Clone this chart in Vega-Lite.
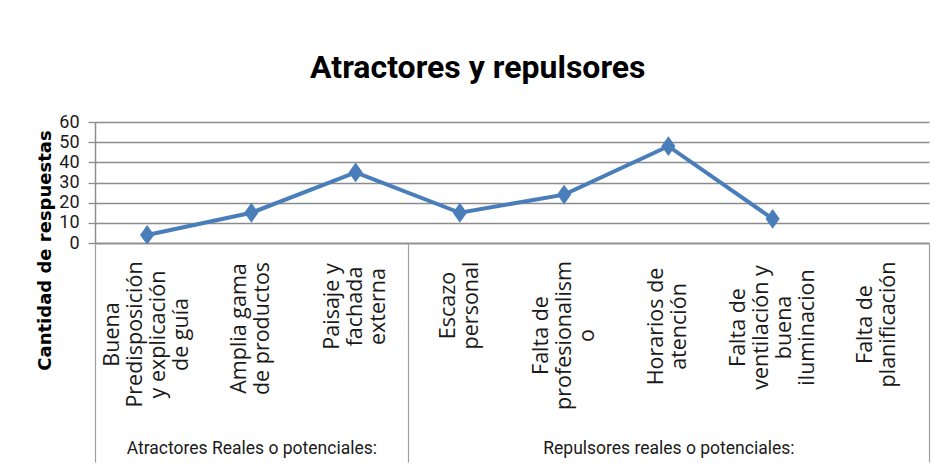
{
  "$schema": "https://vega.github.io/schema/vega-lite/v6.json",
  "autosize": {"type": "none"},
  "padding": {"left": 95, "top": 122, "right": 5, "bottom": 223},
  "width": 834,
  "height": 121,
  "background": "white",
  "title": {
    "text": "Atractores y repulsores",
    "font": "Roboto",
    "fontWeight": "bold",
    "fontSize": 32,
    "color": "#000000",
    "anchor": "middle",
    "frame": "bounds",
    "baseline": "alphabetic",
    "offset": 3,
    "dx": -5
  },
  "data": {
    "values": [
      {"categoria": "Buena\nPredisposición\ny explicación\nde guía", "grupo": "Atractores Reales o potenciales:", "respuestas": 4},
      {"categoria": "Amplia gama\nde productos", "grupo": "Atractores Reales o potenciales:", "respuestas": 15},
      {"categoria": "Paisaje y\nfachada\nexterna", "grupo": "Atractores Reales o potenciales:", "respuestas": 35},
      {"categoria": "Escazo\npersonal", "grupo": "Repulsores reales o potenciales:", "respuestas": 15},
      {"categoria": "Falta de\nprofesionalism\no", "grupo": "Repulsores reales o potenciales:", "respuestas": 24},
      {"categoria": "Horarios de\natención", "grupo": "Repulsores reales o potenciales:", "respuestas": 48},
      {"categoria": "Falta de\nventilación y\nbuena\niluminacion", "grupo": "Repulsores reales o potenciales:", "respuestas": 12},
      {"categoria": "Falta de\nplanificación", "grupo": "Repulsores reales o potenciales:", "respuestas": null}
    ]
  },
  "layer": [
    {
      "encoding": {
        "x": {
          "field": "categoria",
          "type": "nominal",
          "sort": null,
          "scale": {
            "domain": [
              "Buena\nPredisposición\ny explicación\nde guía",
              "Amplia gama\nde productos",
              "Paisaje y\nfachada\nexterna",
              "Escazo\npersonal",
              "Falta de\nprofesionalism\no",
              "Horarios de\natención",
              "Falta de\nventilación y\nbuena\niluminacion",
              "Falta de\nplanificación"
            ]
          },
          "axis": {
            "orient": "bottom",
            "title": null,
            "grid": false,
            "ticks": false,
            "domainColor": "#8c8c8c",
            "domainWidth": 1.5,
            "labelAngle": -90,
            "labelAlign": "center",
            "labelBaseline": "middle",
            "labelExpr": "split(datum.label, '\\n')",
            "labelFont": "Open Sans",
            "labelFontSize": 21.5,
            "labelLineHeight": 23,
            "labelColor": "#1a1a1a",
            "labelOverlap": false,
            "labelBound": false,
            "labelLimit": 0,
            "labelOffset": {
              "condition": [
                {"test": "indexof(datum.value, 'Buena') == 0", "value": -34.5},
                {"test": "indexof(datum.value, 'Paisaje') == 0", "value": -23},
                {"test": "indexof(datum.value, 'profesionalism') >= 0", "value": -23},
                {"test": "indexof(datum.value, 'ventilación') >= 0", "value": -34.5}
              ],
              "value": -11.5
            },
            "labelPadding": {
              "condition": [
                {"test": "indexof(datum.value, 'Buena') == 0", "value": 91},
                {"test": "indexof(datum.value, 'Amplia') == 0", "value": 85},
                {"test": "indexof(datum.value, 'Paisaje') == 0", "value": 63},
                {"test": "indexof(datum.value, 'Escazo') == 0", "value": 62},
                {"test": "indexof(datum.value, 'profesionalism') >= 0", "value": 92},
                {"test": "indexof(datum.value, 'Horarios') == 0", "value": 83},
                {"test": "indexof(datum.value, 'ventilación') >= 0", "value": 84}
              ],
              "value": 81
            }
          }
        },
        "y": {
          "field": "respuestas",
          "type": "quantitative",
          "scale": {"domain": [0, 60], "nice": false},
          "axis": {
            "title": "Cantidad de respuestas",
            "values": [0, 10, 20, 30, 40, 50, 60],
            "grid": true,
            "gridColor": "#8c8c8c",
            "gridWidth": 1.3,
            "tickSize": 7,
            "tickColor": "#8c8c8c",
            "tickWidth": 1.3,
            "domainColor": "#8c8c8c",
            "domainWidth": 1.5,
            "labelFont": "Roboto",
            "labelFontSize": 18,
            "labelPadding": 9,
            "labelColor": "#1a1a1a",
            "titleFont": "DejaVu Sans",
            "titleFontWeight": "bold",
            "titleFontSize": 18,
            "titleColor": "#000000",
            "titleAngle": -90,
            "titleAlign": "center",
            "titleBaseline": "middle",
            "titleX": -50,
            "titleY": 128
          }
        }
      },
      "layer": [
        {"mark": {"type": "line", "color": "#4a7ebb", "strokeWidth": 4}},
        {
          "mark": {
            "type": "point",
            "shape": "M0,-1.25L0.9,0L0,1.25L-0.9,0Z",
            "filled": true,
            "color": "#4a7ebb",
            "opacity": 1,
            "size": 250
          }
        }
      ]
    },
    {
      "mark": {"type": "point", "opacity": 0},
      "encoding": {
        "x": {
          "datum": 0,
          "type": "quantitative",
          "scale": {"domain": [0, 8], "nice": false, "zero": false},
          "axis": {
            "orient": "bottom",
            "title": null,
            "values": [0, 1.5, 3, 5.5, 8],
            "domain": false,
            "grid": false,
            "tickSize": 219,
            "tickColor": "#a0a0a0",
            "tickWidth": 1.2,
            "tickOpacity": {
              "condition": {"test": "datum.value == 1.5 || datum.value == 5.5", "value": 0},
              "value": 1
            },
            "labelExpr": "datum.value == 1.5 ? 'Atractores Reales o potenciales:' : datum.value == 5.5 ? 'Repulsores reales o potenciales:' : ''",
            "labelFont": "Roboto",
            "labelFontSize": 17.5,
            "labelColor": "#1a1a1a",
            "labelAngle": 0,
            "labelAlign": "center",
            "labelBaseline": "top",
            "labelPadding": -23,
            "labelOverlap": false,
            "labelFlush": false,
            "labelBound": false,
            "labelLimit": 0
          }
        }
      }
    }
  ],
  "resolve": {"scale": {"x": "independent"}, "axis": {"x": "independent"}},
  "config": {"view": {"stroke": null}}
}
